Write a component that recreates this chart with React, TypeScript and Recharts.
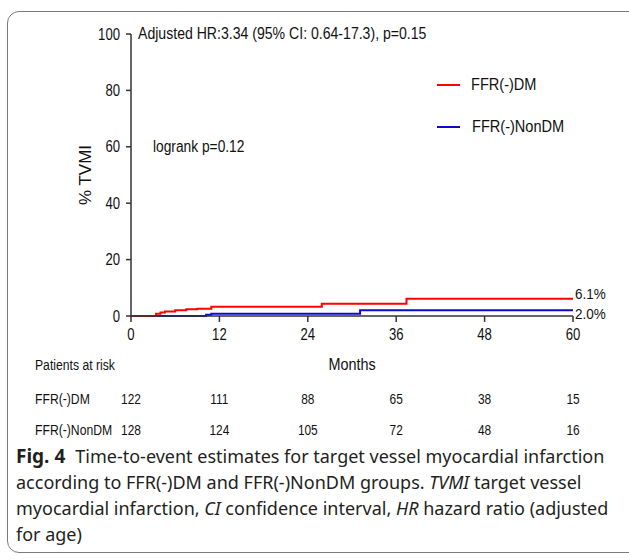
import React from "react";
import { LineChart, Line, XAxis, YAxis, Legend } from "recharts";

const FONT = "'Liberation Sans', Arial, sans-serif";

const months = [0, 12, 24, 36, 48, 60];
const yTicks = [0, 20, 40, 60, 80, 100];

// FFR(-)DM cumulative % TVMI
const dmTimes = [0, 3.4, 4.0, 4.6, 6.0, 7.5, 9.0, 10.9, 25.9, 37.4, 60];
const dmPct = [0, 0.8, 1.2, 1.6, 2.0, 2.4, 2.6, 3.3, 4.3, 6.1, 6.1];

// FFR(-)NonDM cumulative % TVMI
const nonDmTimes = [0, 10.2, 10.9, 31.1, 60];
const nonDmPct = [0, 0.4, 0.8, 2.0, 2.0];

// patients at risk, one per month tick
const dmRisk = [122, 111, 88, 65, 38, 15];
const nonDmRisk = [128, 124, 105, 72, 48, 16];

const series = [
  { name: "FFR(-)DM", color: "#ff0000", end: "6.1%", dy: -5 },
  { name: "FFR(-)NonDM", color: "#0a0ad0", end: "2.0%", dy: 3 },
];

const dmData = dmTimes.map((t, i) => ({ t, v: dmPct[i] }));
const nonDmData = nonDmTimes.map((t, i) => ({ t, v: nonDmPct[i] }));

// condensed look: Liberation Sans squeezed horizontally
const Narrow = ({ x, y, sx, size, anchor, dy, children }: any) => (
  <text
    transform={`translate(${x} ${y}) scale(${sx} 1)`}
    x={0}
    y={0}
    dy={dy}
    textAnchor={anchor}
    fontSize={size}
    fontFamily={FONT}
    fill="#111"
  >
    {children}
  </text>
);

const endLabel = (text: string, dy: number, last: number) => (p: any) => {
  if (p.index !== last) return null;
  return (
    <Narrow x={p.x + 2} y={p.y + dy} sx={0.9} size={15} anchor="start" dy="0.35em">
      {text}
    </Narrow>
  );
};

const XTick = (p: any) => {
  const i = months.indexOf(p.payload.value);
  return (
    <g>
      <Narrow x={p.x} y={p.y} sx={0.82} size={16} anchor="middle" dy="0.71em">
        {p.payload.value}
      </Narrow>
      <Narrow x={p.x} y={399} sx={0.85} size={14} anchor="middle" dy="0.35em">
        {dmRisk[i]}
      </Narrow>
      <Narrow x={p.x} y={430} sx={0.85} size={14} anchor="middle" dy="0.35em">
        {nonDmRisk[i]}
      </Narrow>
    </g>
  );
};

const YTick = (p: any) => (
  <Narrow x={p.x} y={p.y} sx={0.82} size={16} anchor="end" dy="0.35em">
    {p.payload.value}
  </Narrow>
);

const LegendBox = () => (
  <div style={{ fontFamily: FONT, fontSize: 16, color: "#111" }}>
    {series.map((s, i) => (
      <div key={s.name} style={{ display: "flex", alignItems: "center", height: 20, marginBottom: i === 0 ? 22 : 0 }}>
        <div style={{ width: 23, height: 2, background: s.color, marginRight: 11 + i }} />
        <span style={{ display: "inline-block", transform: "scaleX(0.91)", transformOrigin: "left center" }}>{s.name}</span>
      </div>
    ))}
  </div>
);

const abs = (left: number, top: number, size: number, sx: number) => ({
  position: "absolute" as const,
  left,
  top,
  fontFamily: FONT,
  fontSize: size,
  color: "#111",
  whiteSpace: "nowrap" as const,
  lineHeight: "20px",
  transform: `scaleX(${sx})`,
  transformOrigin: "left center",
});

export default function App() {
  return (
    <div style={{ position: "absolute", left: 0, top: 0, width: 629, height: 559, overflow: "hidden", background: "#fff" }}>
      <div
        style={{
          position: "absolute",
          left: 7,
          top: 11,
          width: 660,
          height: 542,
          border: "1.5px solid #7a7a7a",
          borderRadius: 12,
          boxSizing: "border-box",
        }}
      />
      <div style={{ position: "absolute", left: 0, top: 0 }}>
        <LineChart width={629} height={450} margin={{ top: 34, right: 56, left: 71, bottom: 78 }}>
          <XAxis
            dataKey="t"
            type="number"
            domain={[0, 60]}
            ticks={months}
            interval={0}
            height={56}
            tickSize={6}
            tickMargin={7}
            tick={<XTick />}
            stroke="#333"
            strokeWidth={1.5}
            label={(p: any) => {
              const vb = p.viewBox;
              return (
                <Narrow x={vb.x + vb.width / 2} y={364} sx={0.9} size={16} anchor="middle" dy="0.35em">
                  Months
                </Narrow>
              );
            }}
          />
          <YAxis
            type="number"
            domain={[0, 100]}
            ticks={yTicks}
            interval={0}
            width={60}
            tickSize={5}
            tickMargin={6}
            tick={<YTick />}
            stroke="#333"
            strokeWidth={1.5}
            label={(p: any) => {
              const vb = p.viewBox;
              const cx = vb.x + 14;
              const cy = vb.y + vb.height / 2;
              return (
                <text x={cx} y={cy} dy="0.35em" textAnchor="middle" transform={`rotate(-90 ${cx} ${cy})`} fontSize={17} fontFamily={FONT} fill="#111">
                  % TVMI
                </text>
              );
            }}
          />
          <Legend
            layout="vertical"
            align="center"
            verticalAlign="middle"
            content={() => <LegendBox />}
            wrapperStyle={{ left: 437, top: 75, width: 180 }}
          />
          <Line
            data={nonDmData}
            dataKey="v"
            name={series[1].name}
            type="stepAfter"
            stroke={series[1].color}
            strokeWidth={2}
            dot={false}
            isAnimationActive={false}
            label={endLabel(series[1].end, series[1].dy, nonDmData.length - 1)}
          />
          <Line
            data={dmData}
            dataKey="v"
            name={series[0].name}
            type="stepAfter"
            stroke={series[0].color}
            strokeWidth={2}
            dot={false}
            isAnimationActive={false}
            label={endLabel(series[0].end, series[0].dy, dmData.length - 1)}
          />
        </LineChart>
      </div>
      <div style={abs(138, 24, 16, 0.88)}>Adjusted HR:3.34 (95% CI: 0.64-17.3), p=0.15</div>
      <div style={abs(153, 137, 16, 0.86)}>logrank p=0.12</div>
      <div style={abs(35, 355, 14, 0.87)}>Patients at risk</div>
      <div style={abs(35, 389, 14, 0.87)}>FFR(-)DM</div>
      <div style={abs(35, 420, 14, 0.87)}>FFR(-)NonDM</div>
      <div
        style={{
          position: "absolute",
          left: 16,
          top: 443,
          fontFamily: "'Noto Sans', 'Open Sans', sans-serif",
          fontSize: 18,
          lineHeight: "26px",
          color: "#231f20",
          whiteSpace: "nowrap",
        }}
      >
        <div>
          <b style={{ fontSize: 19 }}>Fig. 4</b>
          <span style={{ marginLeft: 10 }}>Time-to-event estimates for target vessel myocardial infarction</span>
        </div>
        <div>
          according to FFR(-)DM and FFR(-)NonDM groups. <i>TVMI</i> target vessel
        </div>
        <div>
          myocardial infarction, <i>CI</i> confidence interval, <i>HR</i> hazard ratio (adjusted
        </div>
        <div>for age)</div>
      </div>
    </div>
  );
}
